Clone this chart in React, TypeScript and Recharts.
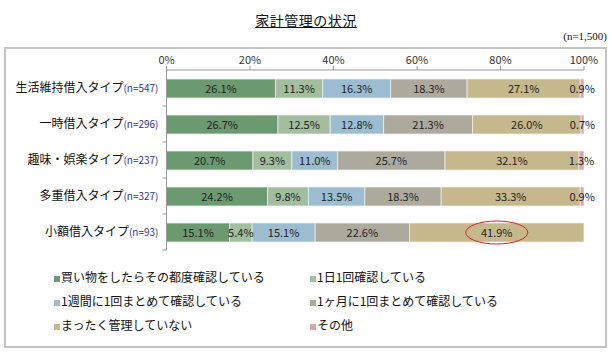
import React from "react";
import { BarChart, Bar, XAxis, YAxis, LabelList } from "recharts";

const categories = [
  "生活維持借入タイプ",
  "一時借入タイプ",
  "趣味・娯楽タイプ",
  "多重借入タイプ",
  "小額借入タイプ",
];
const sampleSizes = ["(n=547)", "(n=296)", "(n=237)", "(n=327)", "(n=93)"];

const seriesNames = [
  "買い物をしたらその都度確認している",
  "1日1回確認している",
  "1週間に1回まとめて確認している",
  "1ヶ月に1回まとめて確認している",
  "まったく管理していない",
  "その他",
];
const seriesKeys = ["each", "daily", "weekly", "monthly", "none", "other"];
const seriesColors = ["#6b9a70", "#a3bd9f", "#9cbdd0", "#aea99d", "#c4b88c", "#d9a5ae"];

const each = [26.1, 26.7, 20.7, 24.2, 15.1];
const daily = [11.3, 12.5, 9.3, 9.8, 5.4];
const weekly = [16.3, 12.8, 11.0, 13.5, 15.1];
const monthly = [18.3, 21.3, 25.7, 18.3, 22.6];
const none = [27.1, 26.0, 32.1, 33.3, 41.9];
const other = [0.9, 0.7, 1.3, 0.9, 0];

const xTicks = [0, 20, 40, 60, 80, 100];

// row whose "none" label gets the red ring
const HIGHLIGHT_ROW = 4;

const seriesValues = [each, daily, weekly, monthly, none, other];

const data = categories.map((name, i) => {
  const row: Record<string, string | number> = { name, n: sampleSizes[i] };
  seriesKeys.forEach((k, s) => {
    row[k] = seriesValues[s][i];
  });
  return row;
});

const FONT = '"Noto Sans CJK JP", "Noto Sans", sans-serif';

function CategoryTick(props: any) {
  const { x, y, payload, index } = props;
  return (
    <g>
      <text
        x={x}
        y={y}
        dy={4}
        textAnchor="end"
        fontFamily={FONT}
        fill="#111"
      >
        <tspan fontSize={12}>{payload.value}</tspan>
        <tspan fontSize={10} fill="#33337f">
          {sampleSizes[index]}
        </tspan>
      </text>
      <line x1={x + 4} x2={x + 8} y1={y + 18} y2={y + 18} stroke="#999" />
    </g>
  );
}

function makeLabel(seriesIndex: number) {
  return (props: any) => {
    const { x, y, width, height, value, index } = props;
    if (!value) return null;
    const cx = x + width / 2;
    const cy = y + height / 2;
    return (
      <g>
        <text
          x={cx}
          y={cy}
          dy={4}
          textAnchor="middle"
          fontSize={11}
          fontFamily={FONT}
          fill="#222"
        >
          {Number(value).toFixed(1)}%
        </text>
        {seriesKeys[seriesIndex] === "none" && index === HIGHLIGHT_ROW && (
          <ellipse
            cx={cx}
            cy={cy}
            rx={31}
            ry={11.5}
            fill="none"
            stroke="#e02020"
            strokeWidth={1}
          />
        )}
      </g>
    );
  };
}

export default function App() {
  return (
    <div
      style={{
        position: "absolute",
        left: 0,
        top: 0,
        width: 612,
        height: 352,
        background: "#fff",
        fontFamily: FONT,
      }}
    >
      <div
        style={{
          position: "absolute",
          left: 0,
          width: 612,
          top: 10,
          textAlign: "center",
          fontSize: 14,
          letterSpacing: 0.5,
          textDecoration: "underline",
          color: "#111",
        }}
      >
        家計管理の状況
      </div>
      <div
        style={{
          position: "absolute",
          right: 5,
          top: 30,
          fontSize: 11,
          fontFamily: '"Liberation Serif", serif',
          color: "#111",
        }}
      >
        (n=1,500)
      </div>
      <div
        style={{
          position: "absolute",
          left: 4,
          top: 47,
          width: 599,
          height: 297,
          border: "2px solid #c4c4c4",
        }}
      />
      <div style={{ position: "absolute", left: 0, top: 0 }}>
        <BarChart
          width={612}
          height={352}
          data={data}
          layout="vertical"
          margin={{ top: 40, right: 28, bottom: 102, left: 0 }}
          barSize={19}
        >
          <XAxis
            type="number"
            orientation="top"
            height={30}
            domain={[0, 100]}
            allowDataOverflow
            ticks={xTicks}
            tickFormatter={(v: number) => `${v}%`}
            tick={{ fill: "#333", fontSize: 11, fontFamily: FONT }}
            tickSize={4}
            tickMargin={2}
            axisLine={{ stroke: "#999" }}
            tickLine={{ stroke: "#999" }}
          />
          <YAxis
            type="category"
            dataKey="name"
            width={166.5}
            tickSize={0}
            tickMargin={8}
            tickLine={false}
            axisLine={{ stroke: "#999" }}
            tick={<CategoryTick />}
            interval={0}
          />
          {seriesKeys.map((k, s) => (
            <Bar
              key={k}
              dataKey={k}
              name={seriesNames[s]}
              stackId="a"
              fill={seriesColors[s]}
              stroke="#ececec"
              strokeWidth={0.8}
              isAnimationActive={false}
            >
              <LabelList dataKey={k} content={makeLabel(s)} />
            </Bar>
          ))}
        </BarChart>
      </div>
      <div
        style={{
          position: "absolute",
          left: 54,
          top: 268,
          width: 520,
          display: "grid",
          gridTemplateColumns: "256px 256px",
          rowGap: 8,
          fontSize: 12,
          color: "#111",
        }}
      >
        {seriesNames.map((nm, s) => (
          <div
            key={nm}
            style={{ display: "flex", alignItems: "center", height: 16 }}
          >
            <span
              style={{
                display: "inline-block",
                width: 6,
                height: 6,
                marginTop: 5,
                marginRight: 1,
                background: seriesColors[s],
              }}
            />
            <span>{nm}</span>
          </div>
        ))}
      </div>
    </div>
  );
}
